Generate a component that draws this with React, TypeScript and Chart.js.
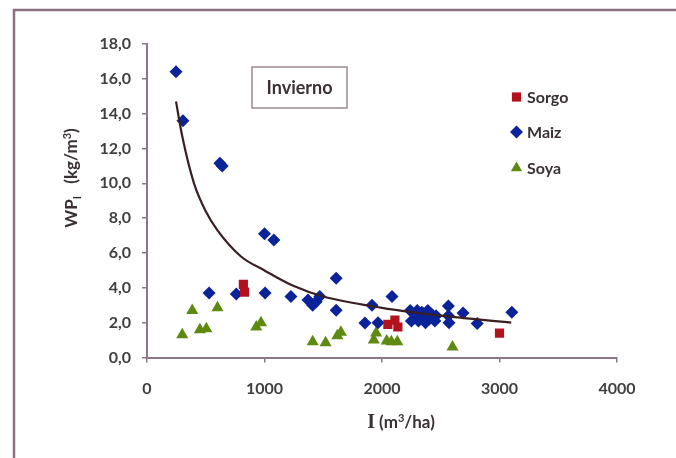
import React, { useEffect, useRef } from 'react';
import { Chart, registerables } from 'chart.js';

Chart.register(...registerables);

// ---- data ----
const xTickValues = [0, 1000, 2000, 3000, 4000];
const xTickLabels = ['0', '1000', '2000', '3000', '4000'];
const yTickLabels = ['0,0', '2,0', '4,0', '6,0', '8,0', '10,0', '12,0', '14,0', '16,0', '18,0'];

const sorgoI = [820, 830, 2050, 2110, 2135, 3000];
const sorgoWP = [4.2, 3.75, 1.9, 2.15, 1.75, 1.4];

const maizI = [247, 306, 620, 640, 1000, 1080, 528, 760, 1005, 1225, 1370, 1410, 1440, 1470, 1610, 1610, 1855, 1915, 1966, 2085,
  2240, 2250, 2280, 2300, 2310, 2340, 2350, 2370, 2390, 2400, 2420, 2450, 2460, 2565, 2565, 2570, 2690, 2810, 3105];
const maizWP = [16.4, 13.6, 11.15, 11.0, 7.1, 6.75, 3.7, 3.65, 3.7, 3.5, 3.3, 3.0, 3.2, 3.5, 4.55, 2.72, 1.98, 3.0, 2.0, 3.5,
  2.7, 2.1, 2.5, 2.7, 2.1, 2.6, 2.3, 2.0, 2.7, 2.2, 2.5, 2.1, 2.4, 2.95, 2.4, 2.0, 2.55, 1.95, 2.6];

const soyaI = [300, 385, 450, 505, 600, 930, 970, 1410, 1520, 1620, 1650, 1930, 1950, 2040, 2080, 2130, 2600];
const soyaWP = [1.3, 2.7, 1.6, 1.65, 2.85, 1.75, 2.0, 0.9, 0.85, 1.25, 1.45, 1.0, 1.4, 0.95, 0.9, 0.9, 0.6];

const trendI = [247, 300, 400, 500, 600, 800, 1000, 1250, 1500, 2000, 2500, 3100];
const trendWP = [14.7, 12.7, 10.0, 8.4, 7.3, 5.8, 5.0, 4.1, 3.5, 2.85, 2.4, 2.0];

const seriesNames = ['Sorgo', 'Maiz', 'Soya'];
const seasonLabel = 'Invierno';

// ---- styles ----
const C_SORGO = '#b3121c';
const C_MAIZ = '#0b2399';
const C_SOYA = '#5e8a12';
const C_AXIS = '#8c7788';
const C_TEXT = '#3a3035';
const FONT = 'Lato';

const pts = (xs: number[], ys: number[]) => xs.map((x, i) => ({ x, y: ys[i] }));

function drawMarker(ctx: CanvasRenderingContext2D, kind: string, x: number, y: number, r: number, color: string) {
  ctx.fillStyle = color;
  ctx.beginPath();
  if (kind === 'rect') {
    const s = r * Math.SQRT1_2;
    ctx.rect(x - s, y - s, 2 * s, 2 * s);
  } else if (kind === 'rectRot') {
    ctx.moveTo(x, y - r);
    ctx.lineTo(x + r, y);
    ctx.lineTo(x, y + r);
    ctx.lineTo(x - r, y);
    ctx.closePath();
  } else {
    ctx.moveTo(x, y - r);
    ctx.lineTo(x + r * 0.866, y + r * 0.5);
    ctx.lineTo(x - r * 0.866, y + r * 0.5);
    ctx.closePath();
  }
  ctx.fill();
}

const overlay = {
  id: 'overlay',
  afterDraw(chart: any) {
    const ctx: CanvasRenderingContext2D = chart.ctx;
    ctx.save();
    // frame
    ctx.strokeStyle = '#8a7080';
    ctx.lineWidth = 2.5;
    ctx.beginPath();
    ctx.moveTo(14, 458);
    ctx.lineTo(14, 10);
    ctx.lineTo(676, 10);
    ctx.stroke();

    // Invierno box
    ctx.fillStyle = '#ffffff';
    ctx.fillRect(252, 67, 95, 41);
    ctx.strokeStyle = '#9a8a90';
    ctx.lineWidth = 1.5;
    ctx.strokeRect(252, 67, 95, 41);
    ctx.fillStyle = C_TEXT;
    ctx.font = `bold 18px ${FONT}`;
    ctx.textAlign = 'center';
    ctx.textBaseline = 'middle';
    ctx.fillText(seasonLabel, 299.5, 88);

    // legend
    const kinds = ['rect', 'rectRot', 'triangle'];
    const colors = [C_SORGO, C_MAIZ, C_SOYA];
    const ys = [97, 132, 168];
    ctx.font = `bold 16px ${FONT}`;
    ctx.textAlign = 'left';
    seriesNames.forEach((n, i) => {
      drawMarker(ctx, kinds[i], 516.5, ys[i], 6.5, colors[i]);
      ctx.fillStyle = C_TEXT;
      ctx.fillText(n, 527, ys[i] + 1);
    });

    // y title
    ctx.save();
    ctx.translate(72, 178);
    ctx.rotate(-Math.PI / 2);
    ctx.textBaseline = 'middle';
    ctx.textAlign = 'left';
    const parts = [
      { t: 'WP', f: `bold 17px ${FONT}`, dy: 0 },
      { t: 'I', f: `bold 11px ${FONT}`, dy: 5 },
      { t: '   (kg/m', f: `bold 17px ${FONT}`, dy: 0 },
      { t: '3', f: `bold 11px ${FONT}`, dy: -5 },
      { t: ')', f: `bold 17px ${FONT}`, dy: 0 },
    ];
    let total = 0;
    parts.forEach(p => { ctx.font = p.f; total += ctx.measureText(p.t).width; });
    let cx = -total / 2;
    ctx.fillStyle = C_TEXT;
    parts.forEach(p => { ctx.font = p.f; ctx.fillText(p.t, cx, p.dy); cx += ctx.measureText(p.t).width; });
    ctx.restore();

    // x title
    const xparts = [
      { t: 'I', f: 'bold 20px "Liberation Serif"', dy: 0 },
      { t: ' (m', f: `bold 17px ${FONT}`, dy: 0 },
      { t: '3', f: `bold 11px ${FONT}`, dy: -5 },
      { t: '/ha)', f: `bold 17px ${FONT}`, dy: 0 },
    ];
    ctx.textBaseline = 'middle';
    let xt = 0;
    xparts.forEach(p => { ctx.font = p.f; xt += ctx.measureText(p.t).width; });
    let xx = 401 - xt / 2;
    ctx.fillStyle = C_TEXT;
    xparts.forEach(p => { ctx.font = p.f; ctx.fillText(p.t, xx, 423 + p.dy); xx += ctx.measureText(p.t).width; });

    ctx.restore();
  },
};

export default function App() {
  const ref = useRef<HTMLCanvasElement | null>(null);
  useEffect(() => {
    if (!ref.current) return;
    const chart = new Chart(ref.current, {
      type: 'scatter',
      data: {
        datasets: [
          {
            label: 'trend',
            data: pts(trendI, trendWP),
            showLine: true,
            borderColor: '#3b1f22',
            borderWidth: 2.2,
            pointRadius: 0,
            tension: 0.4,
            cubicInterpolationMode: 'monotone',
            order: 0,
          } as any,
          {
            label: seriesNames[0],
            data: pts(sorgoI, sorgoWP),
            pointStyle: 'rect',
            pointRadius: 6.5,
            backgroundColor: C_SORGO,
            borderWidth: 0,
            order: 1,
          },
          {
            label: seriesNames[1],
            data: pts(maizI, maizWP),
            pointStyle: 'rectRot',
            pointRadius: 6.5,
            backgroundColor: C_MAIZ,
            borderWidth: 0,
            order: 2,
          },
          {
            label: seriesNames[2],
            data: pts(soyaI, soyaWP),
            pointStyle: 'triangle',
            pointRadius: 7,
            backgroundColor: C_SOYA,
            borderWidth: 0,
            order: 3,
          },
        ],
      },
      options: {
        responsive: false,
        animation: false,
        layout: { padding: { top: 44, right: 59, bottom: 0, left: 0 } },
        plugins: { legend: { display: false }, tooltip: { enabled: false } },
        scales: {
          x: {
            type: 'linear',
            min: 0,
            max: 4000,
            afterFit: (s: any) => { s.height = 100.5; },
            afterBuildTicks: (s: any) => { s.ticks = xTickValues.map(v => ({ value: v })); },
            ticks: {
              padding: 17,
              color: '#404040',
              font: { family: FONT, size: 16, weight: 'bold' },
              maxRotation: 0,
              callback: (v: any) => {
                const i = xTickValues.indexOf(Number(v));
                return i >= 0 ? xTickLabels[i] : '';
              },
            },
            grid: { drawOnChartArea: false, drawTicks: true, tickLength: 5, color: C_AXIS, lineWidth: 1.5 },
            border: { display: true, color: C_AXIS, width: 2 },
          },
          y: {
            type: 'linear',
            min: 0,
            max: 18,
            afterFit: (s: any) => { s.width = 147; },
            ticks: {
              stepSize: 2,
              padding: 11,
              color: '#404040',
              font: { family: FONT, size: 16, weight: 'bold' },
              callback: (v: any) => yTickLabels[Math.round(Number(v) / 2)] ?? '',
            },
            grid: { drawOnChartArea: false, drawTicks: true, tickLength: 5, color: C_AXIS, lineWidth: 1.5 },
            border: { display: true, color: C_AXIS, width: 2 },
          },
        },
      } as any,
      plugins: [overlay],
    });
    return () => chart.destroy();
  }, []);
  return (
    <div style={{ position: 'fixed', left: 0, top: 0, width: 676, height: 458, background: '#fff' }}>
      <canvas ref={ref} width={676} height={458} style={{ display: 'block' }} />
    </div>
  );
}
